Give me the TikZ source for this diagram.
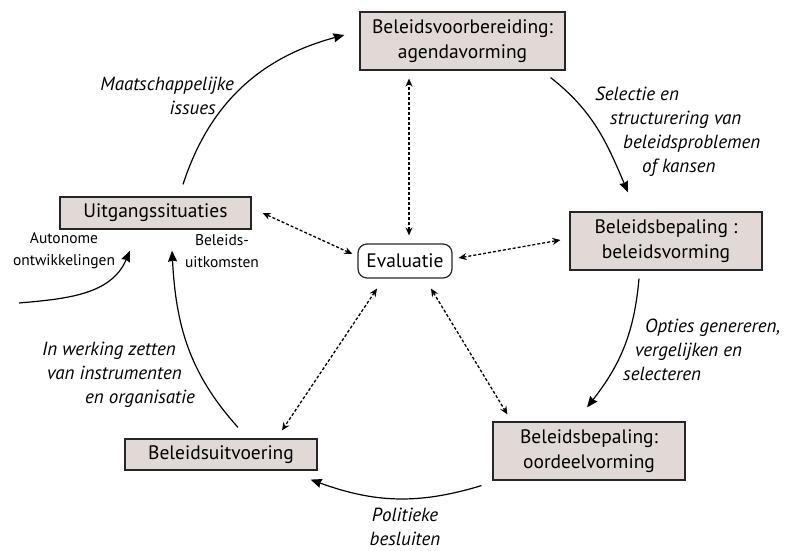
\documentclass[tikz,border=0pt]{standalone}
\usepackage{fontspec}
\setmainfont{PT Sans}
\usetikzlibrary{arrows.meta}
\definecolor{fasegrijs}{RGB}{224,217,214}

\begin{document}
\begin{tikzpicture}[x=1pt,y=1pt,
	fase/.style={draw=black!85,line width=1.2pt,fill=fasegrijs,align=center,inner sep=0pt,font=\fontsize{19.5}{25}\selectfont},
	pijl/.style={line width=1.2pt,-{Stealth[length=11pt,width=9pt,inset=1pt]}},
	stip/.style={line width=1.3pt,dash pattern=on 3pt off 2pt,{Stealth[length=8pt,width=7pt]}-{Stealth[length=8pt,width=7pt]}},
	lbl/.style={font=\fontsize{19}{24}\selectfont\itshape,inner sep=0pt},
	klein/.style={font=\fontsize{15.5}{22}\selectfont,align=center,inner sep=0pt}]
	\useasboundingbox (0,0) rectangle (787,551);
	% fasen van de cyclus
	\node[fase,minimum width=205pt,minimum height=58pt] (prep) at (462.5,510) {Beleidsvoorbereiding:\\agendavorming};
	\node[fase,minimum width=191pt,minimum height=32pt] (uit) at (155.5,338) {Uitgangssituaties};
	\node[fase,minimum width=192pt,minimum height=58pt] (vorm) at (666,310) {Beleidsbepaling :\\beleidsvorming};
	\node[fase,minimum width=192pt,minimum height=58pt] (oordeel) at (589,100) {Beleidsbepaling:\\oordeelvorming};
	\node[fase,minimum width=192pt,minimum height=31pt] (uitv) at (221,96.5) {Beleidsuitvoering};
	\node[draw=black!85,rounded corners=9pt,line width=1.2pt,fill=white,minimum width=94pt,minimum height=34pt,inner sep=0pt,font=\fontsize{19.5}{25}\selectfont] (eval) at (405,290) {Evaluatie};
	% cyclus
	\draw[pijl] ([shift={(27.5,12)}]uit.north) to[out=72,in=195] ([shift={(-15,6)}]prep.west);
	\draw[pijl] ([shift={(-15,-7)}]prep.south east) to[out=-38,in=113] ([shift={(-38,19)}]vorm.north);
	\draw[pijl] ([shift={(-27,-8)}]vorm.south) to[out=-95,in=52] ([shift={(-2,14)}]oordeel.north);
	\draw[pijl] ([shift={(-11,-5)}]oordeel.south west) to[out=197,in=-20] ([shift={(-7,-9)}]uitv.south east);
	\draw[pijl] ([shift={(17,11)}]uitv.north) to[out=132,in=-87] ([shift={(16.5,-21)}]uit.south);
	\coordinate (auto) at (19,248);
	\draw[pijl] (auto) to[out=5,in=-113] ([shift={(-25.5,-21)}]uit.south);
	% evaluatie
	\draw[stip] ([shift={(4,8)}]eval.north) -- ([shift={(-53.5,-8)}]prep.south);
	\draw[stip] ([shift={(-5,7)}]eval.west) -- ([shift={(11,0)}]uit.east);
	\draw[stip] ([shift={(6,3)}]eval.east) -- ([shift={(-9,1)}]vorm.west);
	\draw[stip] ([shift={(-28,-10)}]eval.south) -- ([shift={(61,8)}]uitv.north);
	\draw[stip] ([shift={(26,-10)}]eval.south) -- ([shift={(15,7)}]oordeel.north west);
	% teksten bij de pijlen
	\node[lbl,align=right,anchor=north east] (maat) at (234,474) {Maatschappelijke\\issues\hspace*{18pt}};
	\node[lbl,align=left,anchor=north west] (sel) at (595,464) {Selectie en\\\hspace*{15pt}structurering van\\\hspace*{28pt}beleidsproblemen\\\hspace*{47pt}of kansen};
	\node[lbl,align=left,anchor=north west] (opt) at (623,232) {\hspace*{22pt}Opties genereren,\\\hspace*{12pt}vergelijken en\\selecteren};
	\node[lbl,align=center,anchor=north] (pol) at (405,43) {Politieke\\besluiten};
	\node[lbl,align=left,anchor=north west] (werk) at (42,209) {In werking zetten\\\hspace*{5pt}van instrumenten\\\hspace*{43pt}en organisatie};
	\node[klein] (auton) at (64,300) {Autonome\\ontwikkelingen};
	\node[klein] (uitk) at (222,300) {Beleids-\\uitkomsten};
\end{tikzpicture}
\end{document}
